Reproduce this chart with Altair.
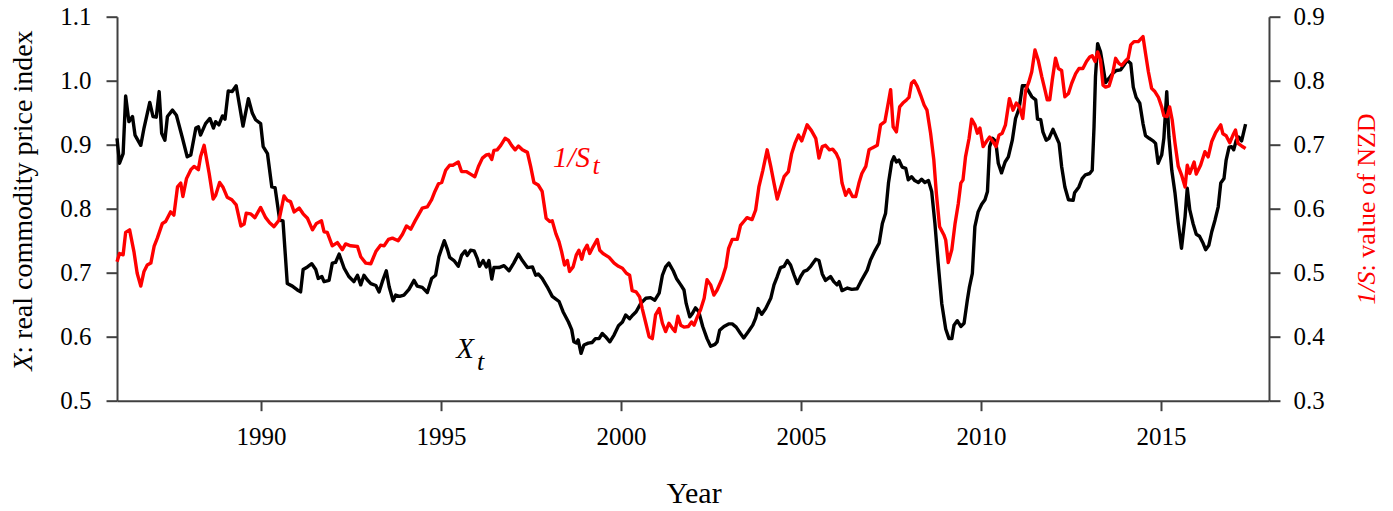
import altair as alt
import pandas as pd

# ---- data ----
black_years = [1986.0, 1986.07, 1986.17, 1986.24, 1986.33, 1986.43, 1986.5, 1986.66, 1986.75, 1986.91,
    1987.0, 1987.09, 1987.17, 1987.24, 1987.33, 1987.4, 1987.54, 1987.65, 1987.81, 1987.95,
    1988.05, 1988.19, 1988.26, 1988.32, 1988.46, 1988.58, 1988.68, 1988.74, 1988.83, 1988.93,
    1989.0, 1989.09, 1989.2, 1989.31, 1989.41, 1989.5, 1989.65, 1989.76, 1989.85, 1989.99,
    1990.06, 1990.18, 1990.3, 1990.39, 1990.52, 1990.61, 1990.73, 1990.87, 1991.01, 1991.1,
    1991.17, 1991.29, 1991.41, 1991.52, 1991.59, 1991.69, 1991.75, 1991.89, 1991.98, 1992.07,
    1992.17, 1992.31, 1992.44, 1992.58, 1992.68, 1992.77, 1992.86, 1992.95, 1993.05, 1993.19,
    1993.28, 1993.37, 1993.48, 1993.56, 1993.67, 1993.74, 1993.85, 1993.97, 1994.11, 1994.25,
    1994.34, 1994.48, 1994.62, 1994.74, 1994.85, 1994.94, 1995.09, 1995.18, 1995.24, 1995.36,
    1995.48, 1995.57, 1995.67, 1995.73, 1995.82, 1995.92, 1996.01, 1996.07, 1996.17, 1996.26,
    1996.33, 1996.41, 1996.47, 1996.61, 1996.75, 1996.89, 1997.02, 1997.15, 1997.26, 1997.4,
    1997.54, 1997.63, 1997.7, 1997.81, 1997.95, 1998.09, 1998.28, 1998.39, 1998.54, 1998.63,
    1998.69, 1998.76, 1998.81, 1998.89, 1998.97, 1999.09, 1999.2, 1999.29, 1999.39, 1999.48,
    1999.57, 1999.69, 1999.81, 1999.93, 2000.04, 2000.13, 2000.24, 2000.33, 2000.42, 2000.55,
    2000.69, 2000.82, 2000.94, 2001.06, 2001.15, 2001.24, 2001.33, 2001.45, 2001.54, 2001.66,
    2001.75, 2001.81, 2001.91, 2001.98, 2002.07, 2002.16, 2002.27, 2002.39, 2002.49, 2002.61,
    2002.67, 2002.74, 2002.86, 2002.99, 2003.09, 2003.2, 2003.32, 2003.41, 2003.54, 2003.66,
    2003.74, 2003.81, 2003.91, 2004.02, 2004.16, 2004.25, 2004.34, 2004.43, 2004.53, 2004.62,
    2004.71, 2004.81, 2004.9, 2004.99, 2005.08, 2005.17, 2005.27, 2005.41, 2005.5, 2005.59,
    2005.68, 2005.82, 2005.91, 2006.0, 2006.06, 2006.14, 2006.29, 2006.41, 2006.56, 2006.66,
    2006.84, 2006.93, 2007.06, 2007.17, 2007.26, 2007.35, 2007.43, 2007.52, 2007.58, 2007.65,
    2007.72, 2007.81, 2007.91, 2007.98, 2008.07, 2008.16, 2008.26, 2008.35, 2008.44, 2008.54,
    2008.63, 2008.72, 2008.81, 2008.91, 2009.02, 2009.11, 2009.19, 2009.25, 2009.34, 2009.44,
    2009.53, 2009.62, 2009.68, 2009.76, 2009.83, 2009.92, 2010.02, 2010.11, 2010.18, 2010.24,
    2010.32, 2010.41, 2010.48, 2010.57, 2010.67, 2010.76, 2010.87, 2010.96, 2011.06, 2011.15,
    2011.24, 2011.33, 2011.41, 2011.52, 2011.57, 2011.66, 2011.72, 2011.81, 2011.89, 2012.0,
    2012.07, 2012.17, 2012.24, 2012.33, 2012.43, 2012.56, 2012.6, 2012.72, 2012.81, 2012.9,
    2013.02, 2013.09, 2013.14, 2013.18, 2013.24, 2013.32, 2013.39, 2013.46, 2013.56, 2013.65,
    2013.76, 2013.88, 2013.97, 2014.06, 2014.16, 2014.23, 2014.31, 2014.41, 2014.5, 2014.57,
    2014.67, 2014.78, 2014.85, 2014.92, 2015.02, 2015.08, 2015.16, 2015.22, 2015.3, 2015.39,
    2015.48, 2015.57, 2015.67, 2015.73, 2015.8, 2015.89, 2015.98, 2016.07, 2016.17, 2016.24,
    2016.33, 2016.41, 2016.5, 2016.59, 2016.66, 2016.75, 2016.81, 2016.89, 2016.96, 2017.02,
    2017.09, 2017.16, 2017.24, 2017.35]
black_vals = [0.910, 0.871, 0.886, 0.976, 0.936, 0.944, 0.915, 0.899, 0.926, 0.966,
    0.944, 0.943, 0.983, 0.918, 0.907, 0.944, 0.954, 0.946, 0.912, 0.881,
    0.884, 0.926, 0.928, 0.915, 0.933, 0.941, 0.926, 0.936, 0.931, 0.945,
    0.940, 0.984, 0.983, 0.992, 0.959, 0.929, 0.972, 0.949, 0.939, 0.933,
    0.897, 0.886, 0.834, 0.833, 0.782, 0.781, 0.683, 0.679, 0.673, 0.670,
    0.705, 0.709, 0.714, 0.705, 0.691, 0.694, 0.686, 0.688, 0.715, 0.716,
    0.729, 0.707, 0.694, 0.686, 0.696, 0.681, 0.696, 0.689, 0.683, 0.680,
    0.670, 0.686, 0.703, 0.678, 0.656, 0.665, 0.663, 0.665, 0.674, 0.688,
    0.679, 0.677, 0.669, 0.691, 0.696, 0.725, 0.750, 0.736, 0.724, 0.719,
    0.710, 0.727, 0.734, 0.727, 0.735, 0.734, 0.722, 0.710, 0.719, 0.709,
    0.719, 0.690, 0.708, 0.708, 0.711, 0.703, 0.715, 0.729, 0.719, 0.708,
    0.709, 0.696, 0.698, 0.691, 0.678, 0.663, 0.655, 0.639, 0.623, 0.611,
    0.592, 0.590, 0.595, 0.574, 0.587, 0.590, 0.591, 0.597, 0.597, 0.605,
    0.600, 0.592, 0.603, 0.617, 0.623, 0.634, 0.628, 0.634, 0.639, 0.652,
    0.660, 0.661, 0.657, 0.668, 0.696, 0.709, 0.715, 0.703, 0.691, 0.681,
    0.673, 0.652, 0.631, 0.636, 0.645, 0.639, 0.616, 0.597, 0.585, 0.588,
    0.592, 0.610, 0.616, 0.620, 0.620, 0.615, 0.605, 0.598, 0.608, 0.618,
    0.629, 0.644, 0.635, 0.644, 0.660, 0.681, 0.694, 0.708, 0.710, 0.719,
    0.712, 0.696, 0.683, 0.694, 0.702, 0.704, 0.710, 0.721, 0.719, 0.698,
    0.688, 0.694, 0.686, 0.681, 0.686, 0.672, 0.676, 0.674, 0.675, 0.686,
    0.704, 0.720, 0.735, 0.746, 0.777, 0.793, 0.840, 0.873, 0.881, 0.873,
    0.876, 0.865, 0.863, 0.845, 0.850, 0.844, 0.841, 0.846, 0.841, 0.844,
    0.827, 0.777, 0.715, 0.652, 0.612, 0.597, 0.597, 0.618, 0.625, 0.616,
    0.621, 0.657, 0.678, 0.699, 0.772, 0.795, 0.807, 0.814, 0.827, 0.897,
    0.910, 0.905, 0.871, 0.856, 0.873, 0.881, 0.907, 0.941, 0.957, 0.992,
    0.992, 0.983, 0.975, 0.970, 0.940, 0.939, 0.920, 0.907, 0.910, 0.924,
    0.915, 0.902, 0.866, 0.834, 0.814, 0.813, 0.825, 0.834, 0.847, 0.853,
    0.855, 0.860, 0.928, 1.006, 1.058, 1.045, 1.022, 0.997, 1.004, 1.011,
    1.016, 1.017, 1.024, 1.032, 1.027, 0.990, 0.974, 0.965, 0.933, 0.914,
    0.910, 0.906, 0.902, 0.871, 0.884, 0.910, 0.983, 0.912, 0.860, 0.824,
    0.777, 0.738, 0.788, 0.832, 0.798, 0.777, 0.760, 0.757, 0.746, 0.736,
    0.743, 0.764, 0.782, 0.803, 0.840, 0.847, 0.876, 0.896, 0.897, 0.892,
    0.907, 0.912, 0.906, 0.932]

red_years = [1986.0, 1986.07, 1986.17, 1986.24, 1986.35, 1986.47, 1986.56, 1986.66, 1986.75, 1986.84,
    1986.94, 1987.03, 1987.12, 1987.26, 1987.35, 1987.49, 1987.58, 1987.68, 1987.77, 1987.83,
    1987.93, 1988.05, 1988.14, 1988.26, 1988.32, 1988.42, 1988.56, 1988.67, 1988.74, 1988.85,
    1988.94, 1989.06, 1989.19, 1989.31, 1989.44, 1989.53, 1989.59, 1989.71, 1989.83, 1989.99,
    1990.13, 1990.24, 1990.36, 1990.5, 1990.64, 1990.73, 1990.82, 1990.92, 1991.06, 1991.17,
    1991.29, 1991.43, 1991.54, 1991.68, 1991.75, 1991.84, 1991.98, 1992.12, 1992.26, 1992.35,
    1992.49, 1992.68, 1992.77, 1992.91, 1993.05, 1993.19, 1993.32, 1993.42, 1993.54, 1993.65,
    1993.81, 1993.93, 1994.04, 1994.16, 1994.28, 1994.39, 1994.48, 1994.62, 1994.74, 1994.83,
    1994.93, 1995.02, 1995.13, 1995.24, 1995.33, 1995.48, 1995.57, 1995.7, 1995.82, 1995.94,
    1996.04, 1996.15, 1996.26, 1996.33, 1996.41, 1996.47, 1996.56, 1996.66, 1996.78, 1996.87,
    1996.96, 1997.06, 1997.15, 1997.26, 1997.4, 1997.49, 1997.58, 1997.7, 1997.81, 1997.92,
    1998.02, 1998.09, 1998.19, 1998.28, 1998.35, 1998.43, 1998.51, 1998.57, 1998.67, 1998.76,
    1998.83, 1998.91, 1998.97, 1999.06, 1999.13, 1999.22, 1999.34, 1999.41, 1999.5, 1999.67,
    1999.81, 1999.93, 2000.04, 2000.15, 2000.24, 2000.31, 2000.42, 2000.52, 2000.59, 2000.69,
    2000.78, 2000.87, 2000.96, 2001.06, 2001.15, 2001.24, 2001.33, 2001.43, 2001.5, 2001.58,
    2001.66, 2001.75, 2001.87, 2001.96, 2002.03, 2002.12, 2002.21, 2002.31, 2002.39, 2002.49,
    2002.58, 2002.67, 2002.81, 2002.91, 2002.99, 2003.09, 2003.23, 2003.32, 2003.41, 2003.5,
    2003.64, 2003.74, 2003.83, 2003.94, 2004.06, 2004.16, 2004.25, 2004.34, 2004.43, 2004.53,
    2004.65, 2004.74, 2004.83, 2004.93, 2005.02, 2005.17, 2005.29, 2005.41, 2005.5, 2005.59,
    2005.68, 2005.79, 2005.88, 2005.98, 2006.06, 2006.14, 2006.24, 2006.33, 2006.43, 2006.52,
    2006.61, 2006.69, 2006.8, 2006.89, 2006.98, 2007.12, 2007.21, 2007.33, 2007.43, 2007.49,
    2007.56, 2007.65, 2007.74, 2007.83, 2007.93, 2008.0, 2008.07, 2008.14, 2008.23, 2008.32,
    2008.42, 2008.5, 2008.6, 2008.69, 2008.76, 2008.85, 2008.97, 2009.02, 2009.09, 2009.19,
    2009.28, 2009.37, 2009.44, 2009.5, 2009.57, 2009.67, 2009.74, 2009.83, 2009.9, 2009.97,
    2010.06, 2010.15, 2010.24, 2010.33, 2010.42, 2010.5, 2010.59, 2010.68, 2010.79, 2010.89,
    2010.98, 2011.07, 2011.16, 2011.24, 2011.33, 2011.41, 2011.5, 2011.59, 2011.69, 2011.78,
    2011.84, 2011.91, 2011.98, 2012.07, 2012.15, 2012.24, 2012.33, 2012.43, 2012.52, 2012.63,
    2012.72, 2012.83, 2012.93, 2013.02, 2013.09, 2013.17, 2013.24, 2013.32, 2013.39, 2013.46,
    2013.56, 2013.65, 2013.74, 2013.83, 2013.91, 2014.0, 2014.09, 2014.16, 2014.25, 2014.37,
    2014.5, 2014.57, 2014.65, 2014.74, 2014.83, 2014.93, 2015.02, 2015.08, 2015.17, 2015.24,
    2015.31, 2015.39, 2015.48, 2015.57, 2015.67, 2015.73, 2015.8, 2015.92, 2015.98, 2016.1,
    2016.22, 2016.31, 2016.41, 2016.52, 2016.66, 2016.72, 2016.81, 2016.91, 2017.0, 2017.07,
    2017.14, 2017.24, 2017.35]
red_vals = [0.517, 0.530, 0.528, 0.563, 0.567, 0.533, 0.499, 0.479, 0.502, 0.512,
    0.515, 0.541, 0.554, 0.577, 0.580, 0.595, 0.590, 0.634, 0.640, 0.619,
    0.647, 0.661, 0.666, 0.661, 0.681, 0.699, 0.655, 0.615, 0.621, 0.641,
    0.634, 0.618, 0.614, 0.606, 0.573, 0.576, 0.593, 0.592, 0.586, 0.602,
    0.586, 0.578, 0.572, 0.582, 0.620, 0.613, 0.611, 0.595, 0.601, 0.592,
    0.585, 0.567, 0.577, 0.581, 0.564, 0.563, 0.542, 0.547, 0.536, 0.545,
    0.542, 0.541, 0.525, 0.515, 0.514, 0.533, 0.543, 0.542, 0.552, 0.554,
    0.550, 0.560, 0.573, 0.568, 0.581, 0.592, 0.601, 0.603, 0.614, 0.627,
    0.639, 0.641, 0.660, 0.668, 0.668, 0.673, 0.658, 0.658, 0.654, 0.650,
    0.666, 0.679, 0.684, 0.685, 0.677, 0.691, 0.692, 0.699, 0.710, 0.707,
    0.699, 0.692, 0.698, 0.692, 0.688, 0.666, 0.641, 0.637, 0.627, 0.585,
    0.580, 0.581, 0.561, 0.548, 0.533, 0.512, 0.519, 0.502, 0.509, 0.528,
    0.535, 0.521, 0.534, 0.543, 0.530, 0.540, 0.552, 0.535, 0.530, 0.524,
    0.515, 0.510, 0.507, 0.499, 0.496, 0.472, 0.470, 0.462, 0.444, 0.421,
    0.400, 0.397, 0.434, 0.444, 0.421, 0.408, 0.421, 0.413, 0.408, 0.432,
    0.418, 0.415, 0.416, 0.423, 0.418, 0.431, 0.442, 0.460, 0.489, 0.481,
    0.465, 0.473, 0.491, 0.509, 0.538, 0.552, 0.552, 0.574, 0.580, 0.586,
    0.583, 0.598, 0.634, 0.660, 0.692, 0.666, 0.640, 0.615, 0.632, 0.650,
    0.658, 0.686, 0.702, 0.715, 0.706, 0.731, 0.722, 0.710, 0.679, 0.697,
    0.699, 0.692, 0.693, 0.686, 0.676, 0.640, 0.621, 0.630, 0.619, 0.619,
    0.640, 0.655, 0.666, 0.692, 0.695, 0.699, 0.731, 0.736, 0.767, 0.786,
    0.728, 0.720, 0.759, 0.765, 0.770, 0.774, 0.796, 0.800, 0.791, 0.778,
    0.762, 0.754, 0.718, 0.676, 0.624, 0.572, 0.559, 0.551, 0.516, 0.536,
    0.577, 0.608, 0.640, 0.645, 0.681, 0.710, 0.740, 0.731, 0.718, 0.726,
    0.697, 0.705, 0.712, 0.705, 0.697, 0.715, 0.718, 0.731, 0.772, 0.754,
    0.765, 0.759, 0.741, 0.785, 0.798, 0.814, 0.848, 0.832, 0.806, 0.785,
    0.770, 0.770, 0.801, 0.835, 0.819, 0.816, 0.775, 0.780, 0.796, 0.811,
    0.819, 0.819, 0.830, 0.837, 0.839, 0.830, 0.845, 0.832, 0.793, 0.790,
    0.792, 0.809, 0.835, 0.827, 0.824, 0.830, 0.835, 0.856, 0.861, 0.861,
    0.869, 0.843, 0.814, 0.788, 0.783, 0.774, 0.759, 0.745, 0.744, 0.759,
    0.739, 0.702, 0.666, 0.653, 0.634, 0.668, 0.655, 0.673, 0.654, 0.668,
    0.689, 0.681, 0.705, 0.719, 0.731, 0.717, 0.714, 0.703, 0.715, 0.723,
    0.702, 0.698, 0.694]

x_ticks = [1990, 1995, 2000, 2005, 2010, 2015]
left_ticks = [0.5, 0.6, 0.7, 0.8, 0.9, 1.0, 1.1]
right_ticks = [0.3, 0.4, 0.5, 0.6, 0.7, 0.8, 0.9]

# annotation labels (data coordinates, left scale)
ann_text = ["1/S", "t", "X", "t"]
ann_year = [1998.11, 1999.21, 1995.42, 1996.0]
ann_val = [0.865, 0.854, 0.567, 0.548]
ann_color = ["#ff0000", "#ff0000", "#000000", "#000000"]
ann_size = [29, 26, 29, 26]

FONT = "Liberation Serif"
W, H = 1152, 384

black_df = pd.DataFrame({"year": black_years, "v": black_vals})
red_df = pd.DataFrame({"year": red_years, "v": red_vals})

xenc = alt.X("year:Q", scale=alt.Scale(domain=[1986, 2018], nice=False, zero=False),
             axis=alt.Axis(values=x_ticks, format="d", title=None, tickSize=10, labelPadding=14))
left_axis = alt.Axis(values=left_ticks, format=".1f", title=None, tickSize=11, labelPadding=15)
yleft = alt.Y("v:Q", scale=alt.Scale(domain=[0.5, 1.1], nice=False, zero=False), axis=left_axis)

black_line = alt.Chart(black_df).mark_line(color="black", strokeWidth=3.4, strokeJoin="round").encode(
    x=xenc, y=yleft)

layers = [black_line]
for t, yr, val, col, sz in zip(ann_text, ann_year, ann_val, ann_color, ann_size):
    d = pd.DataFrame({"year": [yr], "v": [val], "label": [t]})
    layers.append(alt.Chart(d).mark_text(font=FONT, fontStyle="italic", fontSize=sz, color=col,
                                         align="left", baseline="alphabetic").encode(
        x=xenc, y=yleft, text="label:N"))

# axis titles drawn as text (mixed italic / upright)
def title_text(label, x, y, size, color, style, angle, align):
    d = pd.DataFrame({"label": [label]})
    return alt.Chart(d).mark_text(font=FONT, fontSize=size, color=color, fontStyle=style,
                                  angle=angle, align=align, baseline="middle").encode(
        x=alt.value(x), y=alt.value(y), text="label:N")

layers.append(title_text("X", -93, 354, 28, "black", "italic", 270, "left"))
layers.append(title_text(": real commodity price index", -93, 337, 28, "black", "normal", 270, "left"))
layers.append(title_text("1/S", 1250, 288, 26, "#ff0000", "italic", 270, "left"))
layers.append(title_text(": value of NZD", 1250, 254.8, 26, "#ff0000", "normal", 270, "left"))
ydf = pd.DataFrame({"label": ["Year"]})
layers.append(alt.Chart(ydf).mark_text(font=FONT, fontSize=30, color="black", align="center",
                                       baseline="alphabetic").encode(
    x=alt.value(577), y=alt.value(486), text="label:N"))

left_group = alt.layer(*layers)

red_line = alt.Chart(red_df).mark_line(color="#ff0000", strokeWidth=3.4, strokeJoin="round").encode(
    x=xenc,
    y=alt.Y("v:Q", scale=alt.Scale(domain=[0.3, 0.9], nice=False, zero=False),
            axis=alt.Axis(values=right_ticks, format=".1f", title=None, orient="right",
                          tickSize=11, labelPadding=13)))

chart = alt.layer(left_group, red_line).resolve_scale(y="independent").properties(
    width=W, height=H,
    autosize=alt.AutoSizeParams(type="none"),
    padding={"left": 109, "top": 8.7, "right": 112, "bottom": 110},
).configure_view(stroke=None).configure_axis(
    grid=False, domainColor="#404040", tickColor="#404040", domainWidth=2, tickWidth=2,
    labelFont=FONT, labelFontSize=25, labelColor="black",
)

chart.save("out.html", embed_options={"renderer": "svg", "actions": False})
